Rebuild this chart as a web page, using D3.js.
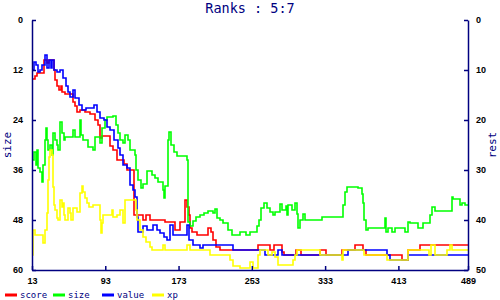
<!DOCTYPE html>
<html>
<head>
<meta charset="utf-8">
<script src="https://cdn.jsdelivr.net/npm/d3@7"></script>
<style>
  body { margin: 0; background: #fff; }
  svg { display: block; }
</style>
</head>
<body>
<div id="chart"></div>
<script>
var title = "Ranks : 5:7";
var xTicks = [13, 93, 173, 253, 333, 413, 489];
var leftTicks = [0, 12, 24, 36, 48, 60];
var rightTicks = [0, 10, 20, 30, 40, 50];

// [step, rank] pairs
var score = [[13,11.8],[16,11.2],[18,10.6],[26,8],[29,8.6],[32,8],[37,10],[38,12],[40,13.2],[42,14],[45,13.2],[46,14.4],[49,14.8],[58,16.4],[60,17.2],[62,18.4],[65,18],[71,18.4],[76,18.8],[82,20],[85,21],[87,23.6],[89,23.2],[98,25.2],[101,26],[106,28],[113,28.8],[117,30],[124,39],[134,40],[137,39],[142,40],[158,40.4],[169,42],[175,40.4],[180,36],[182,37.4],[184,39],[186,41.6],[188,42.4],[193,43],[205,41.6],[208,42.4],[211,44],[214,45.4],[218,46],[260,45],[273,46],[277,45],[286,46.4],[288,47],[301,46],[307,47],[327,46],[334,47],[351,46],[366,45],[374,46],[378,47],[417,48],[424,46],[437,45],[489,45]];

var size = [[13,33.6],[15,31.7],[17,34.8],[18,31.2],[20,35.5],[22,36.5],[24,38.9],[25,34.8],[27,28.8],[28,25.9],[29,28.8],[30,31.2],[33,30],[35,32.4],[36,27.1],[38,28.8],[40,30],[41,31.2],[44,24.5],[46,27.1],[48,28.8],[49,28.1],[58,26.4],[60,28.1],[65,24],[66,27.6],[69,28.8],[74,30.5],[80,31.2],[82,28.1],[87,29.5],[89,25.9],[93,24],[95,23.3],[101,23],[105,25.2],[107,27.1],[109,28.8],[112,29.5],[115,27.6],[118,28.8],[120,31.2],[125,32.4],[126,36],[129,38.4],[132,40.3],[134,39.4],[139,36.2],[144,37.2],[147,37.9],[151,38.9],[156,40.8],[157,42.7],[158,39.8],[161,28.8],[163,26.9],[165,30],[168,31.7],[171,32.6],[182,33.6],[183,48.5],[185,49.4],[189,48.2],[192,47.3],[196,46.8],[201,46.3],[205,45.8],[211,46.3],[213,45.4],[215,47.5],[218,48],[221,48.7],[227,50.4],[231,51.6],[240,50.9],[247,51.6],[251,50.9],[259,49.4],[261,48],[263,45.1],[266,43.9],[270,45.1],[273,46.1],[276,46.8],[278,46.1],[284,44.2],[286,45.6],[290,44.6],[291,46.8],[292,44.4],[297,45.6],[300,43.9],[302,46.6],[303,49.9],[306,48],[309,46.6],[311,48],[330,47.3],[353,44.4],[355,41.3],[357,40.1],[369,40.3],[373,41.8],[374,43.9],[375,48],[378,50.4],[380,49.9],[398,47.5],[399,50.9],[402,49.9],[406,50.9],[409,49.9],[420,50.9],[424,48.5],[426,48.7],[434,49.9],[440,48.7],[447,46.8],[450,44.9],[453,45.8],[471,42.5],[473,43],[480,44.4],[482,43.9],[486,44.4],[489,44.4]];

var value = [[13,10],[15,8.4],[17,9],[20,10.4],[22,10],[24,9],[27,7],[29,9.6],[32,8],[34,9.6],[35,8],[37,10],[40,10.4],[44,10],[47,11.6],[50,13.2],[52,14.4],[55,15.4],[58,14],[60,15.6],[64,17],[68,18],[72,17.6],[81,17],[84,18.4],[87,19.6],[92,20],[95,21.4],[98,22],[103,24],[107,25.6],[109,27],[112,29],[117,29.6],[120,33],[123,34],[125,35.4],[128,39.4],[129,42.4],[134,41.2],[139,42],[145,41],[149,42],[153,42.6],[157,43.4],[160,44],[164,41],[167,43],[182,41],[184,44],[189,45],[196,45.6],[200,45],[232,46],[267,47],[282,46],[286,47],[358,46],[401,47],[404,48],[424,47],[489,47]];

var xp = [[13,47],[14,42],[16,43],[25,44.6],[27,42],[29,38.6],[30,32],[32,27.4],[33,26],[35,27],[36,33.4],[37,37],[38,38],[40,39.6],[41,40],[44,36],[46,37.4],[47,36.6],[48,39],[49,40],[52,37.6],[54,38.6],[56,40],[58,37.6],[62,38.4],[65,34.6],[68,33.2],[69,34.4],[71,35.6],[73,36.6],[75,37.4],[80,37],[87,40],[88,42.6],[89,40.6],[91,39],[100,38],[101,39.4],[106,39],[109,38],[112,40.6],[115,36],[126,38],[128,40],[131,42],[134,43.4],[137,44.4],[142,45.4],[144,46],[156,45],[158,46],[182,45],[185,46],[207,47],[229,48],[232,49.2],[240,49.6],[251,48.4],[254,49.6],[260,47],[262,46],[271,47],[275,46.4],[278,47.4],[282,49],[298,48],[300,47],[302,46],[327,47],[351,48],[353,46],[376,47],[401,48],[424,46],[446,47],[449,45],[453,47],[466,46],[469,45],[471,46],[489,46]];

var series = [
    {name: "score", data: score, color: "#ff0000", axis: "right"},
    {name: "size", data: size, color: "#00ff00", axis: "left"},
    {name: "value", data: value, color: "#0000ff", axis: "right"},
    {name: "xp", data: xp, color: "#ffff00", axis: "right"}
];

var W = 500, H = 300;
var navy = "#000080";
var mono = "'DejaVu Sans Mono', monospace";

var x = d3.scaleLinear().domain([13, 489]).range([32, 468]);
var yLeft = d3.scaleLinear().domain([0, 60]).range([20, 270]);
var yRight = d3.scaleLinear().domain([0, 50]).range([20, 270]);

var svg = d3.select("#chart").append("svg")
        .attr("width", W)
        .attr("height", H);

svg.append("text")
    .attr("x", 250)
    .attr("y", 13)
    .attr("text-anchor", "middle")
    .style("font-family", mono)
    .style("font-size", "13.5px")
    .attr("fill", navy)
    .text(title);

var plot = svg.append("g");

series.forEach(function(s) {
    var yScale = s.axis === "left" ? yLeft : yRight;
    var line = d3.line()
        .x(function(d) { return Math.round(x(d[0])); })
        .y(function(d) { return Math.round(yScale(d[1])); })
        .curve(d3.curveStepAfter);
    plot.append("path")
        .datum(s.data)
        .attr("fill", "none")
        .attr("stroke", s.color)
        .attr("stroke-width", 1.6)
        .attr("d", line);
});

var xAxis = d3.axisBottom(x).tickValues(xTicks).tickSizeInner(-4).tickSizeOuter(0).tickPadding(8);
var lAxis = d3.axisLeft(yLeft).tickValues(leftTicks).tickSizeInner(-4).tickSizeOuter(0).tickPadding(9);
var rAxis = d3.axisRight(yRight).tickValues(rightTicks).tickSizeInner(-4).tickSizeOuter(0).tickPadding(8);

function styleAxis(g) {
    g.select(".domain").attr("stroke", navy).attr("stroke-width", 1.5);
    g.selectAll(".tick line").attr("stroke", navy).attr("stroke-width", 1.5);
    g.selectAll(".tick text")
        .attr("fill", "#000")
        .style("font-family", "'Liberation Sans', Arial, sans-serif")
        .style("font-weight", "bold")
        .style("font-size", "9px");
}

svg.append("g")
    .attr("transform", "translate(0,270)")
    .call(xAxis)
    .call(styleAxis);

svg.append("g")
    .attr("transform", "translate(32,0)")
    .call(lAxis)
    .call(styleAxis);

svg.append("g")
    .attr("transform", "translate(468,0)")
    .call(rAxis)
    .call(styleAxis);

svg.append("text")
    .attr("transform", "translate(11,145) rotate(-90)")
    .attr("text-anchor", "middle")
    .style("font-family", mono)
    .style("font-size", "11px")
    .attr("fill", navy)
    .text("size");

svg.append("text")
    .attr("transform", "translate(496,145) rotate(-90)")
    .attr("text-anchor", "middle")
    .style("font-family", mono)
    .style("font-size", "11px")
    .attr("fill", navy)
    .text("rest");

var legendX = [5, 53, 102, 152];
var legend = svg.append("g").attr("transform", "translate(0,295)");

series.forEach(function(s, i) {
    legend.append("line")
        .attr("x1", legendX[i])
        .attr("x2", legendX[i] + 12)
        .attr("stroke", s.color)
        .attr("stroke-width", 3);
    legend.append("text")
        .attr("x", legendX[i] + 15)
        .attr("y", 3)
        .style("font-family", mono)
        .style("font-size", "9px")
        .attr("fill", navy)
        .text(s.name);
});
</script>
</body>
</html>
